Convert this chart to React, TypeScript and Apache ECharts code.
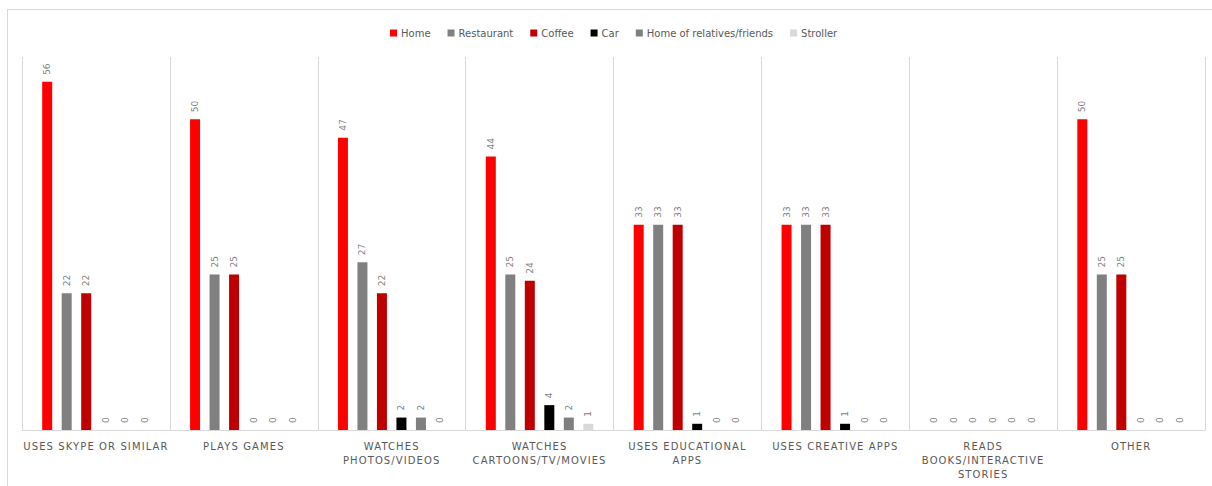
import React, { useEffect, useRef } from "react";
import * as echarts from "echarts";

const categories = [
  "USES SKYPE OR SIMILAR",
  "PLAYS GAMES",
  "WATCHES\nPHOTOS/VIDEOS",
  "WATCHES\nCARTOONS/TV/MOVIES",
  "USES EDUCATIONAL\nAPPS",
  "USES CREATIVE APPS",
  "READS\nBOOKS/INTERACTIVE\nSTORIES",
  "OTHER",
];

const seriesNames = [
  "Home",
  "Restaurant",
  "Coffee",
  "Car",
  "Home of relatives/friends",
  "Stroller",
];

const home = [56, 50, 47, 44, 33, 33, 0, 50];
const restaurant = [22, 25, 27, 25, 33, 33, 0, 25];
const coffee = [22, 25, 22, 24, 33, 33, 0, 25];
const car = [0, 0, 2, 4, 1, 1, 0, 0];
const relatives = [0, 0, 2, 2, 0, 0, 0, 0];
const stroller = [0, 0, 0, 1, 0, 0, 0, 0];

const seriesValues = [home, restaurant, coffee, car, relatives, stroller];
const colors = ["#ff0000", "#808080", "#c00000", "#000000", "#7f7f7f", "#d9d9d9"];

export default function App() {
  const ref = useRef<HTMLDivElement>(null);

  useEffect(() => {
    if (!ref.current) return;
    const chart = echarts.init(ref.current, undefined, { renderer: "svg" });
    const font = "DejaVu Sans";
    chart.setOption({
      animation: false,
      textStyle: { fontFamily: font },
      legend: {
        top: 23,
        left: 385,
        itemWidth: 7,
        itemHeight: 7,
        itemGap: 17,
        icon: "rect",
        textStyle: { color: "#595959", fontSize: 10, fontFamily: font, padding: [0, 0, 0, -1] },
        data: seriesNames,
      },
      grid: { left: 22, right: 7, top: 57, bottom: 56, outerBoundsMode: "none", containLabel: false },
      xAxis: {
        type: "category",
        data: categories,
        axisTick: { show: false },
        axisLine: { lineStyle: { color: "#d9d9d9", width: 1 } },
        splitLine: { show: true, lineStyle: { color: "#d9d9d9", width: 1 } },
        axisLabel: {
          interval: 0,
          color: "#595959",
          fontSize: 10,
          lineHeight: 14,
          margin: 9,
          fontFamily: font,
        },
      },
      yAxis: {
        type: "value",
        min: 0,
        max: 60,
        show: false,
        splitLine: { show: false },
      },
      graphic: [
        {
          type: "line",
          shape: { x1: 7, y1: 9.5, x2: 1212, y2: 9.5 },
          style: { stroke: "#d9d9d9", lineWidth: 1 },
        },
        {
          type: "line",
          shape: { x1: 7.5, y1: 9, x2: 7.5, y2: 486 },
          style: { stroke: "#d9d9d9", lineWidth: 1 },
        },
      ],
      series: seriesNames.map((name, i) => ({
        name,
        type: "bar",
        data: seriesValues[i],
        barWidth: 10,
        barGap: "95%",
        itemStyle: { color: colors[i] },
        label: {
          show: true,
          position: "top",
          rotate: 90,
          align: "left",
          verticalAlign: "middle",
          distance: 7,
          color: "#7f7f7f",
          fontSize: 9,
          fontFamily: font,
        },
      })),
    });

    // Spread out the capitalised category labels
    const lines = new Set(categories.flatMap((c) => c.split("\n")));
    ref.current.querySelectorAll("text").forEach((t) => {
      if (lines.has((t.textContent || "").trim())) {
        t.style.letterSpacing = "1.1px";
      }
    });

    return () => chart.dispose();
  }, []);

  return (
    <div
      ref={ref}
      style={{ position: "absolute", left: 0, top: 0, width: 1212, height: 486 }}
    />
  );
}
